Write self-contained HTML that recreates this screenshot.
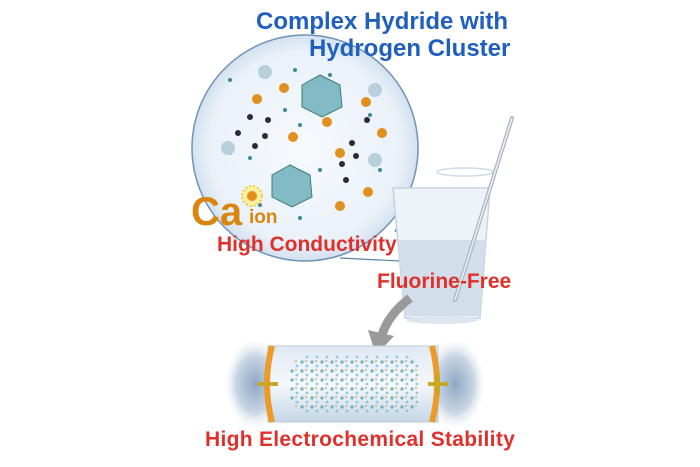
<!DOCTYPE html>
<html><head><style>
html,body{margin:0;padding:0;background:#fff}
body{width:700px;height:467px;position:relative;overflow:hidden;font-family:"Liberation Sans",Arial,sans-serif;font-weight:bold}
.t{position:absolute;white-space:nowrap}
</style></head><body>
<svg width="700" height="467" style="position:absolute;left:0;top:0">
<defs>
<radialGradient id="cg" cx="50%" cy="50%" r="50%"><stop offset="0" stop-color="#f7fafd"/><stop offset="0.85" stop-color="#eaf1f8"/><stop offset="1" stop-color="#d3e1ee"/></radialGradient>
<radialGradient id="gl" cx="50%" cy="50%" r="50%"><stop offset="0" stop-color="#8ea8c4"/><stop offset="0.6" stop-color="#c9d6e4"/><stop offset="1" stop-color="#fff" stop-opacity="0"/></radialGradient>
<linearGradient id="bt" x1="0" y1="0" x2="0" y2="1"><stop offset="0" stop-color="#dfe9f3"/><stop offset="0.5" stop-color="#f5f8fb"/><stop offset="1" stop-color="#c6d6e6"/></linearGradient>
<linearGradient id="tr" x1="0" y1="0" x2="1" y2="0"><stop offset="0" stop-color="#f3c890" stop-opacity="0"/><stop offset="1" stop-color="#eeb060"/></linearGradient>
<pattern id="dots" width="10" height="9" patternUnits="userSpaceOnUse"><circle cx="2" cy="2" r="1.6" fill="#4fa3b5"/><circle cx="7" cy="6" r="1.4" fill="#7fbfcc"/><circle cx="6" cy="1" r="1" fill="#d99a50"/></pattern>
</defs>
<path d="M395 232 L402 215 M340 258 L420 262" stroke="#5d7fa6" stroke-width="1.2" fill="none"/>
<circle cx="305" cy="148" r="113" fill="url(#cg)" stroke="#6f93b8" stroke-width="1.5"/>
<g fill="#6fb0bd" opacity="0.85" stroke="#1f6a5a" stroke-width="1">
<polygon points="320,75 340,85 342,107 322,117 302,107 302,85"/>
<polygon points="290,165 310,175 312,197 292,207 272,197 272,175"/>
</g>
<g stroke="url(#tr)" stroke-width="3">
<line x1="235" y1="88" x2="284" y2="88"/><line x1="215" y1="99" x2="257" y2="99"/><line x1="330" y1="102" x2="366" y2="102"/><line x1="290" y1="122" x2="327" y2="122"/><line x1="260" y1="137" x2="293" y2="137"/><line x1="300" y1="153" x2="340" y2="153"/><line x1="360" y1="133" x2="382" y2="133"/><line x1="330" y1="192" x2="368" y2="192"/><line x1="310" y1="206" x2="340" y2="206"/>
</g>
<g fill="#e0901f">
<circle cx="284" cy="88" r="5"/><circle cx="257" cy="99" r="5"/><circle cx="366" cy="102" r="5"/><circle cx="327" cy="122" r="5"/><circle cx="293" cy="137" r="5"/><circle cx="340" cy="153" r="5"/><circle cx="382" cy="133" r="5"/><circle cx="368" cy="192" r="5"/><circle cx="340" cy="206" r="5"/>
</g>
<g fill="#2d2a35">
<circle cx="250" cy="117" r="3"/><circle cx="268" cy="120" r="3"/><circle cx="238" cy="133" r="3"/><circle cx="265" cy="136" r="3"/><circle cx="255" cy="146" r="3"/><circle cx="352" cy="143" r="3"/><circle cx="342" cy="164" r="3"/><circle cx="356" cy="156" r="3"/><circle cx="367" cy="120" r="3"/><circle cx="346" cy="180" r="3"/>
</g>
<g fill="#3b8a9a">
<circle cx="230" cy="153" r="2"/><circle cx="250" cy="158" r="2"/><circle cx="285" cy="110" r="2"/><circle cx="300" cy="125" r="2"/><circle cx="370" cy="115" r="2"/><circle cx="320" cy="170" r="2"/><circle cx="260" cy="205" r="2"/><circle cx="300" cy="218" r="2"/><circle cx="330" cy="75" r="2"/><circle cx="295" cy="70" r="2"/><circle cx="230" cy="80" r="2"/><circle cx="380" cy="170" r="2"/>
</g>
<g fill="#b8cfdc"><circle cx="265" cy="72" r="7"/><circle cx="375" cy="90" r="7"/><circle cx="228" cy="148" r="7"/><circle cx="375" cy="160" r="7"/></g>
<circle cx="252" cy="196" r="10" fill="#fbf0a0" stroke="#e8c020" stroke-width="1.5" stroke-dasharray="2 2"/>
<circle cx="252" cy="196" r="5" fill="#e0901f"/>
<!-- glass -->
<path d="M393 188 L490 188 L480 318 L405 318 Z" fill="#eef3f8" stroke="#c5d3e0" stroke-width="1.5"/>
<path d="M398 240 L486 240 L480 316 L405 316 Z" fill="#d2dfeb"/>
<ellipse cx="442" cy="320" rx="36" ry="4" fill="#dde6ef"/>
<ellipse cx="465" cy="172" rx="28" ry="4" fill="none" stroke="#d0dbe6" stroke-width="1.5"/>
<line x1="455" y1="300" x2="512" y2="118" stroke="#a9b5c2" stroke-width="4" stroke-linecap="round"/>
<line x1="455" y1="300" x2="512" y2="118" stroke="#eef2f6" stroke-width="1.5"/>
<path d="M410 298 Q388 315 382 335" stroke="#9a9a9a" stroke-width="9" fill="none"/>
<polygon points="368,330 394,336 376,355" fill="#9a9a9a"/>
<ellipse cx="255" cy="384" rx="32" ry="48" fill="url(#gl)"/>
<ellipse cx="455" cy="384" rx="32" ry="48" fill="url(#gl)"/>
<rect x="268" y="346" width="170" height="76" fill="url(#bt)" stroke="#b9cbdd"/>
<rect x="290" y="355" width="130" height="58" rx="18" fill="url(#dots)" opacity="0.8"/>
<path d="M272 346 Q262 384 272 422" stroke="#ec9a2a" stroke-width="6" fill="none"/>
<path d="M432 346 Q442 384 432 422" stroke="#ec9a2a" stroke-width="6" fill="none"/>
<line x1="258" y1="384" x2="278" y2="384" stroke="#c8a820" stroke-width="4"/>
<line x1="428" y1="384" x2="448" y2="384" stroke="#c8a820" stroke-width="4"/>
<line x1="438" y1="374" x2="438" y2="394" stroke="#c8a820" stroke-width="4"/>
</svg>
<div class="t" style="left:256px;top:9px;font-size:24px;color:#1f5fbf;line-height:26px">Complex Hydride with</div>
<div class="t" style="left:309px;top:36px;font-size:24px;color:#1f5fbf;line-height:26px">Hydrogen Cluster</div>
<div class="t" style="left:191px;top:191px;font-size:40px;color:#d9860f;line-height:42px">Ca</div>
<div class="t" style="left:249px;top:207px;font-size:19px;color:#d9860f">ion</div>
<div class="t" style="left:217px;top:233px;font-size:21px;color:#e0302c">High Conductivity</div>
<div class="t" style="left:377px;top:270px;font-size:21px;color:#e0302c">Fluorine-Free</div>
<div class="t" style="left:205px;top:428px;font-size:21px;color:#e0302c;letter-spacing:0.3px">High Electrochemical Stability</div>
</body></html>
